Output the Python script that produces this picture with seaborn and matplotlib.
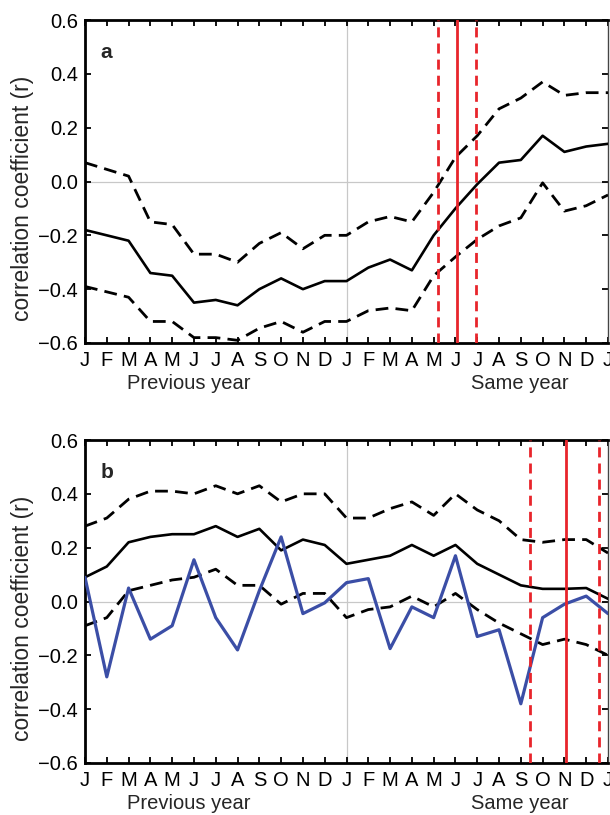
import numpy as np
import pandas as pd
import matplotlib
matplotlib.use("Agg")
import matplotlib.pyplot as plt
import matplotlib.transforms as mtransforms
import seaborn as sns

# Month axis: January of the previous year through January of the following year
month_letters = list("JFMAMJJASOND") * 2 + ["J"]
month_index = list(range(25))

# Panel a: running correlation with its confidence band
a_mean = [-0.18, -0.20, -0.22, -0.34, -0.35, -0.45, -0.44, -0.46, -0.40, -0.36,
          -0.40, -0.37, -0.37, -0.32, -0.29, -0.33, -0.20, -0.10, -0.01, 0.07,
          0.08, 0.17, 0.11, 0.13, 0.14]
a_upper = [0.07, 0.045, 0.02, -0.15, -0.16, -0.27, -0.27, -0.30, -0.23, -0.19,
           -0.25, -0.20, -0.20, -0.15, -0.13, -0.15, -0.04, 0.09, 0.17, 0.27,
           0.31, 0.37, 0.32, 0.33, 0.33]
a_lower = [-0.39, -0.41, -0.43, -0.52, -0.52, -0.58, -0.58, -0.59, -0.545, -0.52,
           -0.56, -0.52, -0.52, -0.48, -0.47, -0.48, -0.35, -0.28, -0.215, -0.165,
           -0.135, -0.005, -0.11, -0.09, -0.05]
a_event = 17.09
a_event_range = [16.22, 17.94]

# Panel b: band plus a single-series correlation
b_mean = [0.09, 0.13, 0.22, 0.24, 0.25, 0.25, 0.28, 0.24, 0.27, 0.19,
          0.23, 0.21, 0.14, 0.155, 0.17, 0.21, 0.17, 0.21, 0.14, 0.10,
          0.06, 0.047, 0.047, 0.05, 0.01]
b_upper = [0.28, 0.31, 0.38, 0.41, 0.41, 0.40, 0.43, 0.40, 0.43, 0.37,
           0.40, 0.40, 0.31, 0.31, 0.345, 0.37, 0.32, 0.40, 0.34, 0.30,
           0.23, 0.22, 0.23, 0.23, 0.18]
b_lower = [-0.09, -0.06, 0.04, 0.06, 0.08, 0.09, 0.12, 0.06, 0.06, -0.01,
           0.03, 0.03, -0.06, -0.03, -0.02, 0.02, -0.02, 0.03, -0.03, -0.08,
           -0.12, -0.16, -0.14, -0.16, -0.20]
b_single = [0.09, -0.28, 0.05, -0.14, -0.09, 0.155, -0.06, -0.18, 0.04, 0.24,
            -0.045, -0.005, 0.07, 0.085, -0.175, -0.02, -0.06, 0.17, -0.13, -0.105,
            -0.38, -0.06, -0.01, 0.02, -0.045]
b_event = 22.06
b_event_range = [20.42, 23.59]

yticks = [-0.6, -0.4, -0.2, 0.0, 0.2, 0.4, 0.6]
ytick_labels = ["\u22120.6", "\u22120.4", "\u22120.2", "0.0", "0.2", "0.4", "0.6"]

sns.set_theme(style="ticks")
plt.rcParams["font.family"] = ["Liberation Sans", "DejaVu Sans"]
plt.rcParams["axes.unicode_minus"] = True

fig = plt.figure(figsize=(6.1, 8.15), dpi=100)
ax_a = fig.add_axes([85 / 610, 1 - 343 / 815, 523 / 610, 323 / 815])
ax_b = fig.add_axes([85 / 610, 1 - 763 / 815, 523 / 610, 323 / 815])

RED = "#e8252b"
BLUE = "#3b4ea6"


def draw_panel(ax, mean, upper, lower, event, event_range, letter, single=None):
    df = pd.DataFrame({"month": month_index, "mean": mean,
                       "upper": upper, "lower": lower})
    ax.axhline(0, color="#c8c8c8", lw=0.9, zorder=0)
    ax.axvline(12, color="#c8c8c8", lw=0.9, zorder=0)
    for col in ("upper", "lower"):
        sns.lineplot(data=df, x="month", y=col, ax=ax, color="black",
                     lw=2.0, dashes=False, linestyle=(0, (4.6, 2.6)), zorder=3)
    sns.lineplot(data=df, x="month", y="mean", ax=ax, color="black",
                 lw=1.9, zorder=3)
    if single is not None:
        sdf = pd.DataFrame({"month": month_index, "r": single})
        sns.lineplot(data=sdf, x="month", y="r", ax=ax, color=BLUE,
                     lw=2.3, zorder=4)
    ax.axvline(event, color=RED, lw=2.0, zorder=5)
    for xv in event_range:
        ax.axvline(xv, color=RED, lw=2.0, linestyle=(0, (3.6, 2.2)), zorder=5)

    ax.set_xlim(0, 24)
    ax.set_ylim(-0.6, 0.6)
    ax.set_xticks(month_index)
    ax.set_xticklabels(month_letters)
    ax.set_yticks(yticks)
    ax.set_yticklabels(ytick_labels)
    ax.set_xlabel("")
    ax.set_ylabel("")
    ax.tick_params(axis="both", direction="in", length=4, width=1.3,
                   top=True, right=True, labelsize=14.5, colors="black", pad=5)
    ax.tick_params(axis="x", pad=6)
    for side in ("left", "bottom", "top"):
        ax.spines[side].set_linewidth(2.0)
        ax.spines[side].set_color("black")
    ax.spines["right"].set_linewidth(1.0)
    ax.spines["right"].set_color("#444444")
    ax.set_facecolor("white")

    ax.text(0.03, 0.93, letter, transform=ax.transAxes, fontsize=15,
            fontweight="bold", ha="left", va="top")
    trans = mtransforms.blended_transform_factory(ax.transData, ax.transAxes)
    ax.text(4.75, -0.125, "Previous year", transform=trans, fontsize=14.5,
            ha="center", va="center")
    ax.text(19.95, -0.125, "Same year", transform=trans, fontsize=14.5,
            ha="center", va="center")


draw_panel(ax_a, a_mean, a_upper, a_lower, a_event, a_event_range, "a")
draw_panel(ax_b, b_mean, b_upper, b_lower, b_event, b_event_range, "b",
           single=b_single)

fig.text(23 / 610, 1 - 198 / 815, "correlation coefficient (r)", rotation=90,
         ha="center", va="center", fontsize=16.5)
fig.text(23 / 610, 1 - 618 / 815, "correlation coefficient (r)", rotation=90,
         ha="center", va="center", fontsize=16.5)

fig.savefig("out.png", dpi=100, facecolor="white")
